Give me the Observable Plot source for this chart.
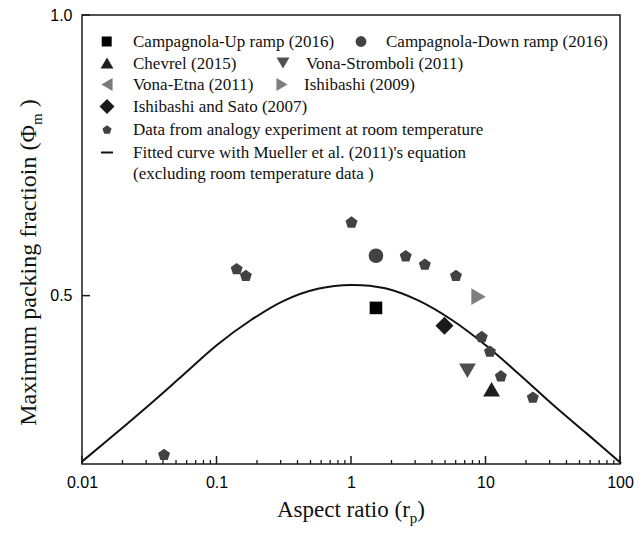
<!DOCTYPE html>
<html><head><meta charset="utf-8">
<script src="https://cdn.jsdelivr.net/npm/d3@7"></script>
<script src="https://cdn.jsdelivr.net/npm/@observablehq/plot@0.6"></script>
<style>body{margin:0;background:#fff}</style>
</head><body><div id="chart"></div>
<script>
// ---- data ----
const seriesNames = [
  "Campagnola-Up ramp (2016)", "Campagnola-Down ramp (2016)", "Chevrel (2015)",
  "Vona-Stromboli (2011)", "Vona-Etna (2011)", "Ishibashi (2009)",
  "Ishibashi and Sato (2007)", "Data from analogy experiment at room temperature"
];
const campUpX = [1.52],  campUpY = [0.479];
const campDownX = [1.52], campDownY = [0.572];
const chevrelX = [11.0], chevrelY = [0.334];
const vonaStromboliX = [7.28], vonaStromboliY = [0.367];
const vonaEtnaX = [], vonaEtnaY = [];
const ishibashiX = [8.8], ishibashiY = [0.499];
const ishibashiSatoX = [4.91], ishibashiSatoY = [0.447];
const analogyX = [0.0404, 0.140, 0.164, 1.0, 2.53, 3.51, 5.98, 9.3, 10.7, 12.9, 22.3];
const analogyY = [0.218, 0.549, 0.537, 0.632, 0.572, 0.557, 0.537, 0.428, 0.402, 0.358, 0.320];
const curveX = [0.01, 0.0178, 0.0316, 0.0562, 0.1, 0.178, 0.316, 0.562, 1, 1.78, 3.16, 5.62, 10, 17.8, 31.6, 56.2, 100];
const curveY = [0.206, 0.256, 0.307, 0.360, 0.413, 0.457, 0.492, 0.513, 0.520, 0.514, 0.492, 0.457, 0.412, 0.360, 0.306, 0.255, 0.203];
const xDomain = [0.01, 100];
const yDomain = [0.2, 1.0];
const xTickValues = [0.01, 0.1, 1, 10, 100];
const xTickLabels = ["0.01", "0.1", "1", "10", "100"];
const yTickValues = [0.5, 1.0];
const yTickLabels = ["0.5", "1.0"];
const xTitle = "Aspect ratio (r";
const xTitleSub = "p";
const yTitle = "Maximum packing fractioin (\u03A6";
const yTitleSub = "m";
const legendExtra = "(excluding room temperature data )";
const curveName = "Fitted curve with Mueller et al. (2011)'s equation";

// ---- custom symbols (size = pi r^2) ----
function sym(fn) { return {draw(c, size) { fn(c, Math.sqrt(size / Math.PI)); }}; }
const symSquare = sym((c, r) => { c.moveTo(-r, -r); c.lineTo(r, -r); c.lineTo(r, r); c.lineTo(-r, r); c.closePath(); });
const symCircle = sym((c, r) => { c.moveTo(r, 0); c.arc(0, 0, r, 0, 2 * Math.PI); });
const symTriUp = sym((c, r) => { c.moveTo(0, -0.75 * r); c.lineTo(0.866 * r, 0.75 * r); c.lineTo(-0.866 * r, 0.75 * r); c.closePath(); });
const symTriDown = sym((c, r) => { c.moveTo(0, 0.75 * r); c.lineTo(0.866 * r, -0.75 * r); c.lineTo(-0.866 * r, -0.75 * r); c.closePath(); });
const symTriLeft = sym((c, r) => { c.moveTo(-0.75 * r, 0); c.lineTo(0.75 * r, -0.866 * r); c.lineTo(0.75 * r, 0.866 * r); c.closePath(); });
const symTriRight = sym((c, r) => { c.moveTo(0.75 * r, 0); c.lineTo(-0.75 * r, -0.866 * r); c.lineTo(-0.75 * r, 0.866 * r); c.closePath(); });
const symDiamond = sym((c, r) => { c.moveTo(0, -r); c.lineTo(r, 0); c.lineTo(0, r); c.lineTo(-r, 0); c.closePath(); });
const symPentagon = sym((c, r) => {
  const off = 0.0955 * r;
  for (let k = 0; k < 5; k++) {
    const a = -Math.PI / 2 + k * 2 * Math.PI / 5;
    const px = r * Math.cos(a), py = r * Math.sin(a) + off;
    if (k === 0) c.moveTo(px, py); else c.lineTo(px, py);
  }
  c.closePath();
});

const pts = (X, Y) => X.map((x, i) => ({x, y: Y[i]}));

const styles = [
  {name: seriesNames[0], X: campUpX, Y: campUpY, symbol: symSquare, fill: "#000", r: 6.3, lr: 5},
  {name: seriesNames[1], X: campDownX, Y: campDownY, symbol: symCircle, fill: "#424242", r: 7.3, lr: 5.4},
  {name: seriesNames[2], X: chevrelX, Y: chevrelY, symbol: symTriUp, fill: "#1e1e1e", r: 9.7, lr: 7.4},
  {name: seriesNames[3], X: vonaStromboliX, Y: vonaStromboliY, symbol: symTriDown, fill: "#4f4f4f", r: 9.7, lr: 7.4},
  {name: seriesNames[4], X: vonaEtnaX, Y: vonaEtnaY, symbol: symTriLeft, fill: "#7a7a7a", r: 9.7, lr: 7.4},
  {name: seriesNames[5], X: ishibashiX, Y: ishibashiY, symbol: symTriRight, fill: "#7f7f7f", r: 9.6, lr: 7.4},
  {name: seriesNames[6], X: ishibashiSatoX, Y: ishibashiSatoY, symbol: symDiamond, fill: "#1a1a1a", r: 9, lr: 7.5},
  {name: seriesNames[7], X: analogyX, Y: analogyY, symbol: symPentagon, fill: "#424242", r: 6.3, lr: 4.8}
];

const minorTicks = [];
for (const dec of [0.01, 0.1, 1, 10]) for (let k = 2; k <= 9; k++) minorTicks.push(+(k * dec).toPrecision(3));

const sans = "'Liberation Sans', Arial, sans-serif";
const svg = Plot.plot({
  width: 644, height: 533,
  marginLeft: 82, marginRight: 24, marginTop: 15, marginBottom: 69,
  x: {type: "log", domain: xDomain},
  y: {type: "linear", domain: yDomain},
  marks: [
    Plot.line(pts(curveX, curveY), {x: "x", y: "y", curve: "catmull-rom", stroke: "#111", strokeWidth: 2}),
    ...styles.filter(s => s.X.length).map(s => Plot.dot(pts(s.X, s.Y), {x: "x", y: "y", symbol: s.symbol, r: s.r, fill: s.fill})),
    Plot.axisX({ticks: xTickValues, tickSize: 0, tickPadding: 12, fontSize: 16, label: null, fontFamily: sans,
      tickFormat: d => xTickLabels[xTickValues.indexOf(d)]}),
    Plot.axisY({ticks: yTickValues, tickSize: 0, tickPadding: 10, fontSize: 16, label: null, fontFamily: sans,
      tickFormat: d => yTickLabels[yTickValues.indexOf(d)]})
  ]
});
document.getElementById("chart").appendChild(svg);

// ---- scales from the plot ----
function getScale(name, fallback) {
  try { const s = svg.scale(name); if (s && typeof s.apply === "function") return v => s.apply(v); } catch (e) {}
  return fallback;
}
const X = getScale("x", d3.scaleLog(xDomain, [82, 620]));
const Y = getScale("y", d3.scaleLinear(yDomain, [464, 15]));

const root = d3.select(svg);
const serif = "'Liberation Serif', 'Times New Roman', serif";

// ---- legend ----
const L = root.append("g").attr("font-family", serif).attr("font-size", 17).attr("fill", "#111").attr("text-anchor", "start");
const legendLayout = [
  {i: 0, sx: 106.7, tx: 133, cy: 41.5},
  {i: 1, sx: 361, tx: 386, cy: 41.5},
  {i: 2, sx: 107, tx: 133, cy: 63},
  {i: 3, sx: 283, tx: 306, cy: 63},
  {i: 4, sx: 107, tx: 133, cy: 84.5},
  {i: 5, sx: 282, tx: 304, cy: 84.5},
  {i: 6, sx: 107, tx: 133, cy: 106.5},
  {i: 7, sx: 107, tx: 133, cy: 129.5}
];
for (const e of legendLayout) {
  const s = styles[e.i];
  L.append("path")
    .attr("d", d3.symbol(s.symbol, Math.PI * s.lr * s.lr)())
    .attr("transform", `translate(${e.sx},${e.cy})`)
    .attr("fill", s.fill);
  L.append("text").attr("x", e.tx).attr("y", e.cy + 5.7).text(s.name);
}
L.append("line").attr("x1", 101).attr("x2", 113).attr("y1", 152.5).attr("y2", 152.5)
  .attr("stroke", "#111").attr("stroke-width", 2);
L.append("text").attr("x", 133).attr("y", 152.5 + 5.7).text(curveName);
L.append("text").attr("x", 133).attr("y", 173.5 + 5.7).text(legendExtra);

// ---- axis titles ----
const xt = root.append("text").attr("font-family", serif).attr("font-size", 23).attr("fill", "#111")
  .attr("text-anchor", "middle").attr("x", 351).attr("y", 517);
xt.append("tspan").text(xTitle);
xt.append("tspan").attr("font-size", 15).attr("dy", 6).text(xTitleSub);
xt.append("tspan").attr("dy", -6).text(")");

const yt = root.append("text").attr("font-family", serif).attr("font-size", 24).attr("fill", "#111")
  .attr("text-anchor", "middle").attr("transform", "translate(35.5,262.5) rotate(-90)");
yt.append("tspan").text(yTitle);
yt.append("tspan").attr("font-size", 15).attr("dy", 6).text(yTitleSub);
yt.append("tspan").attr("dy", -6).text(" )");

// ---- frame and inward ticks, positioned through the plot's scales ----
const x0 = X(xDomain[0]), x1 = X(xDomain[1]), y0 = Y(yDomain[0]), y1 = Y(yDomain[1]);
const F = root.append("g").attr("stroke", "#1a1a1a").attr("fill", "none");
F.append("rect").attr("x", x0).attr("y", y1).attr("width", x1 - x0).attr("height", y0 - y1)
  .attr("stroke-width", 1.5);
for (const t of xTickValues) {
  F.append("line").attr("x1", X(t)).attr("x2", X(t)).attr("y1", y0).attr("y2", y0 - 8).attr("stroke-width", 1.5);
}
for (const t of minorTicks) {
  F.append("line").attr("x1", X(t)).attr("x2", X(t)).attr("y1", y0).attr("y2", y0 - 4).attr("stroke-width", 1.3);
}
for (const t of yTickValues) {
  F.append("line").attr("x1", x0).attr("x2", x0 + 8).attr("y1", Y(t)).attr("y2", Y(t)).attr("stroke-width", 1.5);
}
</script>
</body></html>
